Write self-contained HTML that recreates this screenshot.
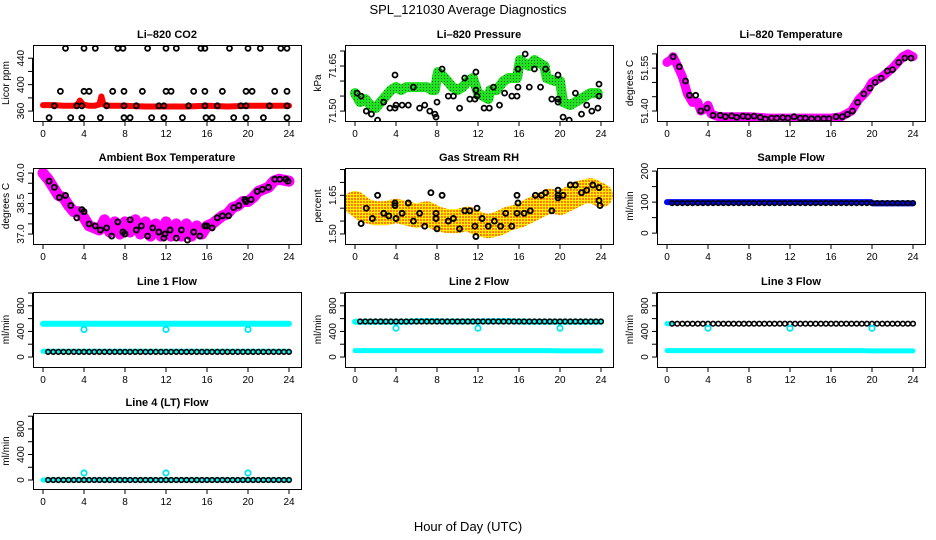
<!DOCTYPE html>
<html><head><meta charset="utf-8"><style>
html,body{margin:0;padding:0;background:#fff}
svg{display:block;font-family:"Liberation Sans",sans-serif}
</style></head><body>
<svg id="chart" width="936" height="540" viewBox="0 0 936 540" xmlns="http://www.w3.org/2000/svg">
<defs>
<pattern id="rhpat" width="3" height="3" patternUnits="userSpaceOnUse"><rect width="3" height="3" fill="#ffee00"/><rect width="2" height="2" fill="#ff7a00"/></pattern>
<pattern id="prpat" width="3" height="3" patternUnits="userSpaceOnUse"><rect width="3" height="3" fill="#22e022"/><rect width="1" height="1" fill="#0a700a"/></pattern>
</defs>
<text x="468" y="14" text-anchor="middle" font-size="13">SPL_121030  Average Diagnostics</text>
<text x="468" y="531" text-anchor="middle" font-size="13">Hour of Day (UTC)</text>
</svg>
<script>
// ---------- data ----------
const xTicks = [0,4,8,12,16,20,24];
const HRS48 = [0.5,1,1.5,2,2.5,3,3.5,4,4.5,5,5.5,6,6.5,7,7.5,8,8.5,9,9.5,10,10.5,11,11.5,12,12.5,13,13.5,14,14.5,15,15.5,16,16.5,17,17.5,18,18.5,19,19.5,20,20.5,21,21.5,22,22.5,23,23.5,24];
const HRS25 = [0,1,2,3,4,5,6,7,8,9,10,11,12,13,14,15,16,17,18,19,20,21,22,23,24];

// CO2
const co2BandT = [0,1,2,3,3.4,3.6,3.9,4.5,5,5.5,5.7,5.9,6.5,8,10,12,14,16,18,20,22,24];
const co2BandV = [369,369,368,368,370,376,370,368,368,370,382,370,368,368,367,367,367,368,367,368,368,368];
const co2PtsT = [2.2,4,5.1,7.3,7.8,10.2,12,13,15.4,15.8,18.2,20,21.2,23.2,23.8, 1.7,4,4.5,6.8,7.9,9.7,12,12.5,14.7,15.8,17.5,19.8,20.4,22.6,23.8, 1.1,3.3,3.8,6.2,7.9,9.1,11.3,11.8,14.2,15.8,17,19.3,19.8,22.1,23.8, 0.6,2.7,3.8,5.6,7.9,8.5,10.6,11.8,13.6,15.9,16.5,18.6,19.8,21.5,23.8];
const co2PtsV = [455,455,455,455,455,455,455,455,455,455,455,455,455,455,455, 390,390,390,390,390,390,390,390,390,390,390,390,390,390,390, 368,368,368,368,368,368,368,368,368,368,368,368,368,368,368, 350,350,350,350,350,350,350,350,350,350,350,350,350,350,350];
const co2Ticks = [360,380,400,420,440];
const co2Labels = [360,400,440];

// Pressure
const prBandT = [0,0.5,1,1.5,2,2.5,3,3.5,4,4.5,5,6,7,7.5,7.8,8.1,8.5,9,9.5,10,10.5,11,11.5,12,12.5,13,13.2,13.8,14.5,15,15.8,16.1,16.5,17,17.5,18,18.5,18.7,19.5,20,20.3,21,21.5,22,23,23.7];
const prBandV = [71.56,71.53,71.54,71.52,71.51,71.53,71.55,71.57,71.58,71.57,71.58,71.58,71.58,71.57,71.57,71.63,71.62,71.60,71.58,71.57,71.58,71.60,71.61,71.56,71.55,71.54,71.57,71.57,71.60,71.61,71.61,71.67,71.66,71.65,71.67,71.66,71.65,71.61,71.60,71.60,71.53,71.52,71.53,71.54,71.56,71.56];
const prPtsT = [0.2,0.6,1.1,1.6,2.2,2.8,3.4,3.9,3.9,4.0,4.6,5.2,5.7,6.3,6.8,7.3,7.8,7.9,8.0,8.5,9.1,9.6,10.2,10.7,11.2,11.7,11.8,11.8,11.9,12.6,13.1,13.5,14.1,14.6,15.3,15.8,15.9,15.9,16.6,17.0,17.5,18.1,18.6,19.2,19.8,19.8,19.8,20.3,20.9,21.5,22.1,22.6,23.1,23.7,23.8,23.8];
const prPtsV = [71.56,71.55,71.50,71.49,71.47,71.53,71.51,71.51,71.62,71.52,71.52,71.52,71.58,71.51,71.52,71.50,71.49,71.48,71.53,71.64,71.55,71.55,71.51,71.61,71.54,71.54,71.63,71.57,71.55,71.51,71.51,71.58,71.52,71.56,71.55,71.55,71.58,71.64,71.69,71.58,71.64,71.58,71.64,71.54,71.53,71.54,71.62,71.48,71.47,71.56,71.49,71.52,71.50,71.51,71.55,71.59];
const prTicks = [71.50,71.55,71.60,71.65,71.70];
const prLabels = [71.50,71.65];

// Li-820 temperature
const tmBandT = [0,0.4,0.6,1,1.5,2,2.5,3,3.3,3.8,4,4.3,5,8,10,14,16,17,18,18.7,19.5,20,21,22,23,23.5,24];
const tmBandV = [51.57,51.58,51.59,51.56,51.52,51.46,51.43,51.43,51.40,51.41,51.42,51.39,51.38,51.38,51.375,51.375,51.375,51.38,51.40,51.44,51.47,51.50,51.52,51.55,51.59,51.60,51.59];
const tmPtsT = [0.6,1.2,1.8,2.2,2.8,3.3,3.9,4.5,5.2,5.7,6.3,6.8,7.4,7.9,8.5,9.1,9.6,10.2,10.7,11.3,11.8,12.4,13.0,13.5,14.1,14.7,15.3,15.8,16.5,17.1,17.6,18.1,18.6,19.2,19.8,20.3,20.9,21.5,22.0,22.6,23.2,23.8];
const tmPtsV = [51.59,51.555,51.505,51.455,51.455,51.40,51.41,51.385,51.385,51.38,51.383,51.378,51.382,51.38,51.382,51.378,51.372,51.375,51.375,51.377,51.375,51.38,51.375,51.375,51.373,51.373,51.373,51.373,51.38,51.38,51.388,51.40,51.43,51.46,51.48,51.50,51.515,51.54,51.545,51.57,51.585,51.585];
const tmTicks = [51.40,51.45,51.50,51.55,51.60];
const tmLabels = [51.40,51.55];

// Ambient box temperature
const abBandT = [0,0.5,1,1.5,2,2.5,3,3.5,4,4.5,5,5.5,6,6.5,7,7.5,8,8.5,9,9.5,10,10.5,11,11.5,12,12.5,13,13.5,14,14.5,15,15.5,16,16.5,17,17.5,18,18.5,19,19.5,20,20.5,21,21.5,22,22.5,23,24];
const abBandV = [40.0,39.7,39.3,38.9,38.8,38.4,38.1,38.1,37.8,37.4,37.3,37.2,37.7,37.1,37.6,37.0,37.6,37.1,37.7,37.0,37.6,36.9,37.5,36.9,37.6,36.9,37.5,36.9,37.5,36.9,37.4,37.0,37.4,37.5,37.7,37.9,38.0,38.3,38.4,38.6,38.6,38.8,39.1,39.2,39.3,39.6,39.7,39.6];
const abPtsT = [0.6,1.1,1.6,2.2,2.7,3.3,3.8,4.0,4.5,5.1,5.6,6.2,6.7,7.3,7.8,8.0,8.5,9.1,9.6,10.2,10.7,11.3,11.8,11.9,12.4,13.0,13.5,14.1,14.7,15.3,15.8,16.0,16.5,17.0,17.5,18.1,18.6,19.1,19.7,19.8,20.3,20.9,21.4,22.0,22.6,23.1,23.7,23.9];
const abPtsV = [39.6,39.3,38.8,38.9,38.4,37.8,38.2,38.1,37.5,37.4,37.2,37.3,36.9,37.6,37.1,37.0,37.7,37.2,37.4,36.9,37.3,37.1,36.8,37.0,37.2,36.8,37.2,36.7,37.1,36.9,37.4,37.4,37.3,37.8,37.9,37.9,38.3,38.4,38.7,38.6,38.7,39.1,39.2,39.3,39.7,39.7,39.7,39.6];
const abTicks = [37.0,37.5,38.0,38.5,39.0,39.5,40.0];
const abLabels = [37.0,38.5,40.0];

// Gas stream RH
const rhBandT = HRS25;
const rhBandV = [1.62,1.59,1.58,1.58,1.59,1.58,1.57,1.58,1.56,1.55,1.55,1.56,1.54,1.53,1.54,1.56,1.57,1.59,1.61,1.63,1.62,1.64,1.66,1.67,1.65];
const rhPtsT = [0.6,1.1,1.7,2.2,2.8,3.3,3.9,3.9,4.0,4.6,5.2,5.7,6.3,6.8,7.4,7.9,7.9,8.0,8.5,9.1,9.6,10.2,10.7,11.2,11.7,11.8,11.9,12.4,13.0,13.6,14.2,14.7,15.3,15.8,15.8,15.9,16.5,17.1,17.6,18.2,18.6,19.2,19.8,19.8,19.8,20.3,21.0,21.5,22.1,22.6,23.2,23.8,23.8,23.9];
const rhPtsV = [1.54,1.60,1.56,1.65,1.58,1.57,1.61,1.62,1.56,1.58,1.62,1.55,1.58,1.53,1.66,1.58,1.56,1.52,1.65,1.55,1.56,1.52,1.59,1.59,1.53,1.49,1.60,1.56,1.53,1.55,1.53,1.58,1.53,1.58,1.65,1.62,1.58,1.59,1.65,1.65,1.66,1.59,1.67,1.65,1.64,1.65,1.69,1.69,1.66,1.67,1.69,1.68,1.63,1.61];
const rhTicks = [1.50,1.55,1.60,1.65,1.70,1.75];
const rhLabels = [1.50,1.65];

// Sample flow
const sfBandT = [0,4,8,12,16,19.9,20.1,24];
const sfBandV = [100,100,100,100,100,100,96,96];
const sfPtsV = [97,97,97,97,97,97,97,97,97,97,97,97,97,97,97,97,97,97,97,97,97,97,97,97,97,97,97,97,97,97,97,97,97,97,97,97,97,97,97,97,97,97,97,97,97,97,97,97];
const sfTicks = [0,50,100,150,200];
const sfLabels = [0,100,200];

// Line flows
const flTicks = [0,200,400,600,800,1000];
const flLabels = [0,400,800];
const outlierT = [4,12,20];
const l1HighV = [520,520,520,520,520,520,520,520,520,520,520,520,520,520,520,520,520,520,520,520,520,520,520,520,520];
const l1LowV  = [90,90,90,90,90,90,90,90,90,90,90,90,90,90,90,90,90,90,90,90,90,90,90,90,90];
const l1BlackV = [80,80,80,80,80,80,80,80,80,80,80,80,80,80,80,80,80,80,80,80,80,80,80,80,80,80,80,80,80,80,80,80,80,80,80,80,80,80,80,80,80,80,80,80,80,80,80,80];
const l1OutV = [430,430,430];
const l2HighV = [550,550,550,550,550,550,560,560,560,555,555,555,555,560,560,560,555,550,550,550,550,550,550,550,550];
const l2LowV  = [100,100,100,100,100,100,100,100,100,100,100,100,100,100,100,100,100,100,100,100,95,95,95,95,95];
const l2BlackV = [555,555,555,555,555,555,555,555,555,555,555,555,555,555,555,555,555,555,555,555,555,555,555,555,555,555,555,555,555,555,555,555,555,555,555,555,555,555,555,555,555,555,555,555,555,555,555,555];
const l2OutV = [450,450,450];
const l3HighV = [520,520,520,520,520,520,520,520,520,520,520,520,520,520,520,520,520,520,520,520,520,520,520,520,520];
const l3LowV  = [100,100,100,100,100,100,100,100,100,100,100,100,100,100,100,100,100,100,100,100,95,95,95,95,95];
const l3BlackV = [520,520,520,520,520,520,520,520,520,520,520,520,520,520,520,520,520,520,520,520,520,520,520,520,520,520,520,520,520,520,520,520,520,520,520,520,520,520,520,520,520,520,520,520,520,520,520,520];
const l3OutV = [450,450,450];
const l4LowV  = [0,0,0,0,0,0,0,0,0,0,0,0,0,0,0,0,0,0,0,0,0,0,0,0,0];
const l4BlackV = [0,0,0,0,0,0,0,0,0,0,0,0,0,0,0,0,0,0,0,0,0,0,0,0,0,0,0,0,0,0,0,0,0,0,0,0,0,0,0,0,0,0,0,0,0,0,0,0];
const l4OutV = [110,110,110];

// ---------- drawing ----------
const NS = 'http://www.w3.org/2000/svg';
const svg = document.getElementById('chart');
const colL = [33,345,657];
const rowTB = [[45,121],[168,244],[292,367],[413,489]];
let clipId = 0;

function mk(parent, tag, attrs){
  const e = document.createElementNS(NS, tag);
  for (const k in attrs) e.setAttribute(k, attrs[k]);
  parent.appendChild(e);
  return e;
}

function panel(name, col, row, title, ylab, dom, ticks, labels, dec){
  const L = colL[col], R = L + 268, T = rowTB[row][0], B = rowTB[row][1];
  const g = mk(svg, 'g', {});
  
  
  const x = t => L + 10 + t / 24 * 246;
  const y = v => B - (v - dom[0]) / (dom[1] - dom[0]) * (B - T);
  const tt = mk(g, 'text', {x: (L + R) / 2, y: T - 7, 'text-anchor': 'middle', 'font-size': 11, 'font-weight': 'bold'});
  tt.textContent = title;
  
  
  const yl = mk(g, 'text', {x: 0, y: 0, transform: 'translate(' + (L - 24) + ',' + ((T + B) / 2) + ') rotate(-90)', 'text-anchor': 'middle', 'font-size': 10});
  yl.textContent = ylab;
  
  
  const xa = mk(g, 'g', {stroke: '#000', 'stroke-width': 1});
  
  
  mk(xa, 'line', {x1: x(0), x2: x(24), y1: B + 0.5, y2: B + 0.5});
  xTicks.forEach(t => {
    mk(xa, 'line', {x1: x(t), x2: x(t), y1: B, y2: B + 5});
    const lt = mk(g, 'text', {x: x(t), y: B + 16, 'text-anchor': 'middle', 'font-size': 10});
    lt.textContent = t;
    
    
  });
  const ya = mk(g, 'g', {stroke: '#000', 'stroke-width': 1});
  
  
  mk(ya, 'line', {x1: L - 0.5, x2: L - 0.5, y1: y(ticks[0]), y2: y(ticks[ticks.length - 1])});
  ticks.forEach(v => mk(ya, 'line', {x1: L - 5, x2: L, y1: y(v), y2: y(v)}));
  labels.forEach(v => {
    const lt = mk(g, 'text', {x: 0, y: 0, transform: 'translate(' + (L - 9) + ',' + y(v) + ') rotate(-90)', 'text-anchor': 'middle', 'font-size': 10});
    lt.textContent = v.toFixed(dec);
    
    
  });
  clipId++;
  const cp = mk(svg.querySelector('defs'), 'clipPath', {id: 'c' + clipId});
  mk(cp, 'rect', {x: L, y: T, width: R - L, height: B - T});
  const plot = mk(g, 'g', {'clip-path': 'url(#c' + clipId + ')'});
  
  
  const box = mk(g, 'rect', {x: L + 0.5, y: T + 0.5, width: R - L, height: B - T, fill: 'none', stroke: '#000', 'stroke-width': 1});
  
  
  return {plot, x, y};
}

function band(p, name, ts, vs, color, w){
  const d = ts.map((t, i) => (i ? 'L' : 'M') + p.x(t).toFixed(1) + ',' + p.y(vs[i]).toFixed(1)).join('');
  const e = mk(p.plot, 'path', {d: d, fill: 'none', stroke: color, 'stroke-width': w, 'stroke-linejoin': 'round', 'stroke-linecap': 'round'});
  
  
}

function pts(p, name, ts, vs, color, r, sw){
  const g = mk(p.plot, 'g', {fill: 'none', stroke: color, 'stroke-width': sw});
  
  
  ts.forEach((t, i) => {
    const c = mk(g, 'circle', {cx: p.x(t).toFixed(1), cy: p.y(vs[i]).toFixed(1), r: r});
    
    
  });
}

let p;
p = panel('co2', 0, 0, 'Li\u2013820 CO2', 'Licor ppm', [345, 460], co2Ticks, co2Labels, 0);
band(p, 'co2-red-series', co2BandT, co2BandV, '#ff0000', 6);
pts(p, 'co2-black-series', co2PtsT, co2PtsV, '#000', 2.5, 1.8);

p = panel('pressure', 1, 0, 'Li\u2013820 Pressure', 'kPa', [71.467, 71.72], prTicks, prLabels, 2);
band(p, 'pressure-green-series', prBandT, prBandV, 'url(#prpat)', 10);
pts(p, 'pressure-black-series', prPtsT, prPtsV, '#000', 2.5, 1.8);

p = panel('li820-temp', 2, 0, 'Li\u2013820 Temperature', 'degrees C', [51.365, 51.631], tmTicks, tmLabels, 2);
band(p, 'li820-temp-magenta-series', tmBandT, tmBandV, '#ff00ff', 9);
pts(p, 'li820-temp-black-series', tmPtsT, tmPtsV, '#000', 2.5, 1.8);

p = panel('ambient-temp', 0, 1, 'Ambient Box Temperature', 'degrees C', [36.51, 40.25], abTicks, abLabels, 1);
band(p, 'ambient-temp-magenta-series', abBandT, abBandV, '#ff00ff', 11);
pts(p, 'ambient-temp-black-series', abPtsT, abPtsV, '#000', 2.5, 1.9);

p = panel('gas-rh', 1, 1, 'Gas Stream RH', 'percent', [1.461, 1.756], rhTicks, rhLabels, 2);
band(p, 'gas-rh-orange-series', rhBandT, rhBandV, 'url(#rhpat)', 24);
pts(p, 'gas-rh-black-series', rhPtsT, rhPtsV, '#000', 2.5, 1.9);

p = panel('sample-flow', 2, 1, 'Sample Flow', 'ml/min', [-35, 210], sfTicks, sfLabels, 0);
band(p, 'sample-flow-blue-series', sfBandT, sfBandV, '#0000ff', 6);
pts(p, 'sample-flow-black-series', HRS48, sfPtsV, '#000', 2.3, 1.6);

p = panel('line1-flow', 0, 2, 'Line 1 Flow', 'ml/min', [-156, 1016], flTicks, flLabels, 0);
band(p, 'line1-cyan-high-series', HRS25, l1HighV, '#00ffff', 6);
band(p, 'line1-cyan-low-series', HRS25, l1LowV, '#00ffff', 5);
pts(p, 'line1-black-series', HRS48, l1BlackV, '#000', 2.3, 1.6);
pts(p, 'line1-cyan-outliers', outlierT, l1OutV, '#00e5ee', 2.7, 1.8);

p = panel('line2-flow', 1, 2, 'Line 2 Flow', 'ml/min', [-156, 1016], flTicks, flLabels, 0);
band(p, 'line2-cyan-high-series', HRS25, l2HighV, '#00ffff', 6);
band(p, 'line2-cyan-low-series', HRS25, l2LowV, '#00ffff', 5);
pts(p, 'line2-black-series', HRS48, l2BlackV, '#000', 2.3, 1.6);
pts(p, 'line2-cyan-outliers', outlierT, l2OutV, '#00e5ee', 2.7, 1.8);

p = panel('line3-flow', 2, 2, 'Line 3 Flow', 'ml/min', [-156, 1016], flTicks, flLabels, 0);
band(p, 'line3-cyan-low-series', HRS25, l3LowV, '#00ffff', 5);
band(p, 'line3-cyan-high-series', [0, 0.4], [520, 520], '#00ffff', 5);
pts(p, 'line3-black-series', HRS48, l3BlackV, '#000', 2.3, 1.6);
pts(p, 'line3-cyan-outliers', outlierT, l3OutV, '#00e5ee', 2.7, 1.8);

p = panel('line4-flow', 0, 3, 'Line 4 (LT) Flow', 'ml/min', [-141, 1050], flTicks, flLabels, 0);
band(p, 'line4-cyan-series', HRS25, l4LowV, '#00ffff', 5);
pts(p, 'line4-black-series', HRS48, l4BlackV, '#000', 2.3, 1.6);
pts(p, 'line4-cyan-outliers', outlierT, l4OutV, '#00e5ee', 2.7, 1.8);
</script>
</body></html>
